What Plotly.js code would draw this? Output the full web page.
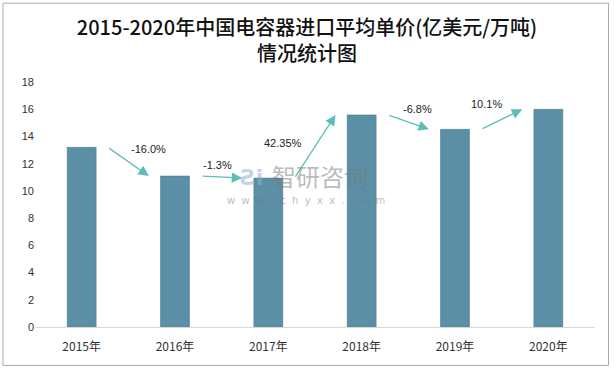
<!DOCTYPE html>
<html><head><meta charset="utf-8">
<script src="https://cdn.plot.ly/plotly-3.0.1.min.js"></script>
<style>html,body{margin:0;padding:0;background:#fff;}#chart{width:614px;height:369px;}</style>
</head><body><div id="chart"></div>
<script>
const categories = ["2015年","2016年","2017年","2018年","2019年","2020年"];
const prices = [13.2, 11.09, 10.94, 15.58, 14.52, 15.99];
const changeLabels = ["-16.0%","-1.3%","42.35%","-6.8%","10.1%"];
const yTicks = [0,2,4,6,8,10,12,14,16,18];

// label placement offsets (layout, in category/axis units relative to arrow start)
const labelDX = [0.44, 0.17, -0.12, 0.32, 0.06];
const labelY = [13.1, 11.9, 13.55, 16.0, 16.4];

const arrowColor = "#5fbdb7";
const annotations = [];
for (let i = 0; i < changeLabels.length; i++) {
  const x0 = i + 0.28, x1 = i + 0.72;
  annotations.push({
    x: x1, y: prices[i+1], xref: "x", yref: "y",
    ax: x0, ay: prices[i], axref: "x", ayref: "y",
    showarrow: true, arrowhead: 2, arrowsize: 1.6, arrowwidth: 1.3,
    arrowcolor: arrowColor, text: "", standoff: 0, startstandoff: 0
  });
  annotations.push({
    x: x0 + labelDX[i], y: labelY[i], xref: "x", yref: "y",
    text: changeLabels[i], showarrow: false,
    font: {family: "Liberation Sans, Arial, sans-serif", size: 11, color: "#222"}
  });
}
// watermark
annotations.push({
  x: 2.55, y: 11.1, xref: "x", yref: "y", text: "智研咨询", showarrow: false,
  font: {family: "Noto Sans CJK SC", size: 24, color: "rgba(120,120,120,0.5)"}
});
annotations.push({
  x: 2.4, y: 9.3, xref: "x", yref: "y", text: "w  w  w  .  c  h  y  x  x  .  c  o  m", showarrow: false,
  font: {family: "DejaVu Sans", size: 10, color: "rgba(120,120,120,0.5)"}
});
annotations.push({
  x: 1.82, y: 11.0, xref: "x", yref: "y", text: "<b>Ƨi</b>", showarrow: false,
  font: {family: "DejaVu Sans", size: 22, color: "rgba(150,170,210,0.55)"}
});

const layout = {
  width: 614, height: 369,
  margin: {l: 35, r: 19, t: 82, b: 41.5},
  paper_bgcolor: "#fff", plot_bgcolor: "#fff",
  title: {
    text: "2015-2020年中国电容器进口平均单价(亿美元/万吨)<br>情况统计图",
    font: {family: "Noto Sans CJK SC", size: 20, color: "#111", weight: 500},
    x: 0.5, xanchor: "center", y: 0.905, yanchor: "top"
  },
  xaxis: {
    type: "category", showgrid: false, zeroline: false,
    showline: true, linecolor: "#d9d9d9", linewidth: 1,
    ticks: "", tickfont: {family: "Noto Sans CJK SC", size: 12, color: "#333"},
    ticklabelstandoff: 9
  },
  yaxis: {
    range: [0, 18], tickvals: yTicks, showgrid: false, zeroline: false,
    showline: false, ticks: "",
    tickfont: {family: "Liberation Sans, Arial, sans-serif", size: 11, color: "#333"}
  },
  bargap: 0.69,
  showlegend: false,
  annotations: annotations,
  shapes: [{
    type: "rect", xref: "paper", yref: "paper",
    x0: (3-35)/560, x1: (608.5-35)/560,
    y0: (327.5-366)/245.5, y1: (327.5-3)/245.5,
    line: {color: "#aaaaaa", width: 1}, fillcolor: "rgba(0,0,0,0)", layer: "below"
  }]
};

Plotly.newPlot("chart", [{
  type: "bar", x: categories, y: prices,
  marker: {color: "#5b8fa6", line: {color: "#4d7f96", width: 0.6}},
  hoverinfo: "skip"
}], layout, {displayModeBar: false, staticPlot: true});
</script></body></html>
